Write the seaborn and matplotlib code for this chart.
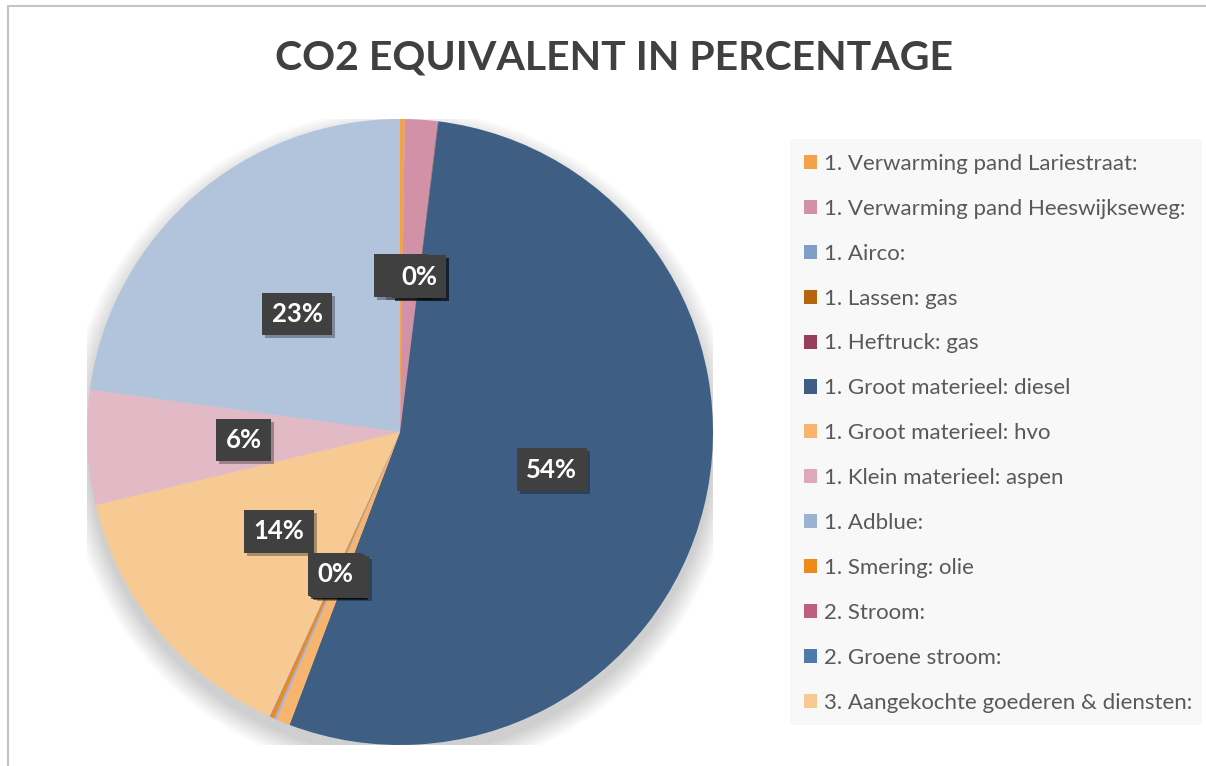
import matplotlib.pyplot as plt
import matplotlib.transforms as mtransforms
from matplotlib.patches import Circle, Rectangle
import seaborn as sns

# data (percent of total)
categories = [
    "1. Verwarming pand Lariestraat:",
    "1. Verwarming pand Heeswijkseweg:",
    "1. Airco:",
    "1. Lassen: gas",
    "1. Heftruck: gas",
    "1. Groot materieel: diesel",
    "1. Groot materieel: hvo",
    "1. Klein materieel: aspen",
    "1. Adblue:",
    "1. Smering: olie",
    "2. Stroom:",
    "2. Groene stroom:",
    "3. Aangekochte goederen & diensten:",
    "3. (not in legend) a",
    "3. (not in legend) b",
]
values = [0.25, 1.65, 0.02, 0.02, 0.02, 53.7, 0.7, 0.05, 0.1, 0.2, 0.02, 0.02, 14.4, 5.9, 22.8]
colors = ["#F4A24A", "#D391A8", "#7F9FC7", "#B5650E", "#963E5C", "#3E5E84",
          "#F6B46C", "#DDA8BA", "#9CB2D3", "#EE8A1B", "#BD5F80", "#4E79AB",
          "#F7C993", "#E2BAC6", "#B1C4DC"]
n_legend = 13

sns.set_theme(style="white")
plt.rcParams["font.family"] = ["Lato", "DejaVu Sans"]

fig = plt.figure(figsize=(12.06, 7.66), dpi=100)
W, H = 1206, 766

# thin chart border (top/left visible)
fig.add_artist(plt.Line2D([8 / W, 8 / W], [0, 1 - 6 / H], transform=fig.transFigure, color="#c4c4c4", lw=1.5))
fig.add_artist(plt.Line2D([8 / W, 1], [1 - 6 / H, 1 - 6 / H], transform=fig.transFigure, color="#c4c4c4", lw=1.5))

fig.text(614 / W, 1 - 58 / H, "CO2 EQUIVALENT IN PERCENTAGE", ha="center", va="center",
         fontsize=29.5, fontweight="bold", color="#404040")

cx, cy, r = 400, 432, 313
ax = fig.add_axes([(cx - r) / W, (H - cy - r) / H, 2 * r / W, 2 * r / H])
ax.set_zorder(1)

# soft shadow below the pie
for i in range(12):
    ax.add_patch(Circle((0.0, -0.035), 1.0 + 0.006 * i, color="black", alpha=0.016, lw=0, zorder=0))

pal = sns.color_palette(colors)
wedges, texts, autotexts = ax.pie(values, colors=pal, startangle=90, counterclock=False,
                                  autopct="%1.0f%%", pctdistance=0.5,
                                  wedgeprops=dict(linewidth=0),
                                  textprops=dict(color="white", fontsize=18.5, fontweight="bold"))
ax.set_xlim(-1, 1)
ax.set_ylim(-1, 1)
ax.set_aspect("equal")
ax.axis("off")

for t in autotexts:
    x, y = t.get_position()
    shadow_tr = mtransforms.offset_copy(ax.transData, fig=fig, x=3, y=-3, units="dots")
    s = ax.text(x, y, t.get_text(), transform=shadow_tr, ha="center", va="center",
                fontsize=18.5, fontweight="bold", color="none",
                bbox=dict(boxstyle="square,pad=0.36", fc="black", ec="none", alpha=0.3))
    s.set_zorder(3)
    t.set_bbox(dict(boxstyle="square,pad=0.36", fc="#404040", ec="none"))
    t.set_zorder(4)
    # bring to front in draw order
    t.remove()
    ax.add_artist(t)

# legend panel
fig.add_artist(Rectangle((790 / W, (H - 725) / H), 412 / W, 586 / H, transform=fig.transFigure,
                         fc="#f8f8f8", ec="none", zorder=0))
leg = fig.legend(wedges[:n_legend], categories[:n_legend], loc="upper left",
                 bbox_to_anchor=(795 / W, 1 - 145 / H), frameon=False,
                 fontsize=16, labelcolor="#595959", handlelength=0.6, handleheight=0.6,
                 handletextpad=0.3, labelspacing=1.12, borderaxespad=0)

fig.savefig("out.png", dpi=100)
